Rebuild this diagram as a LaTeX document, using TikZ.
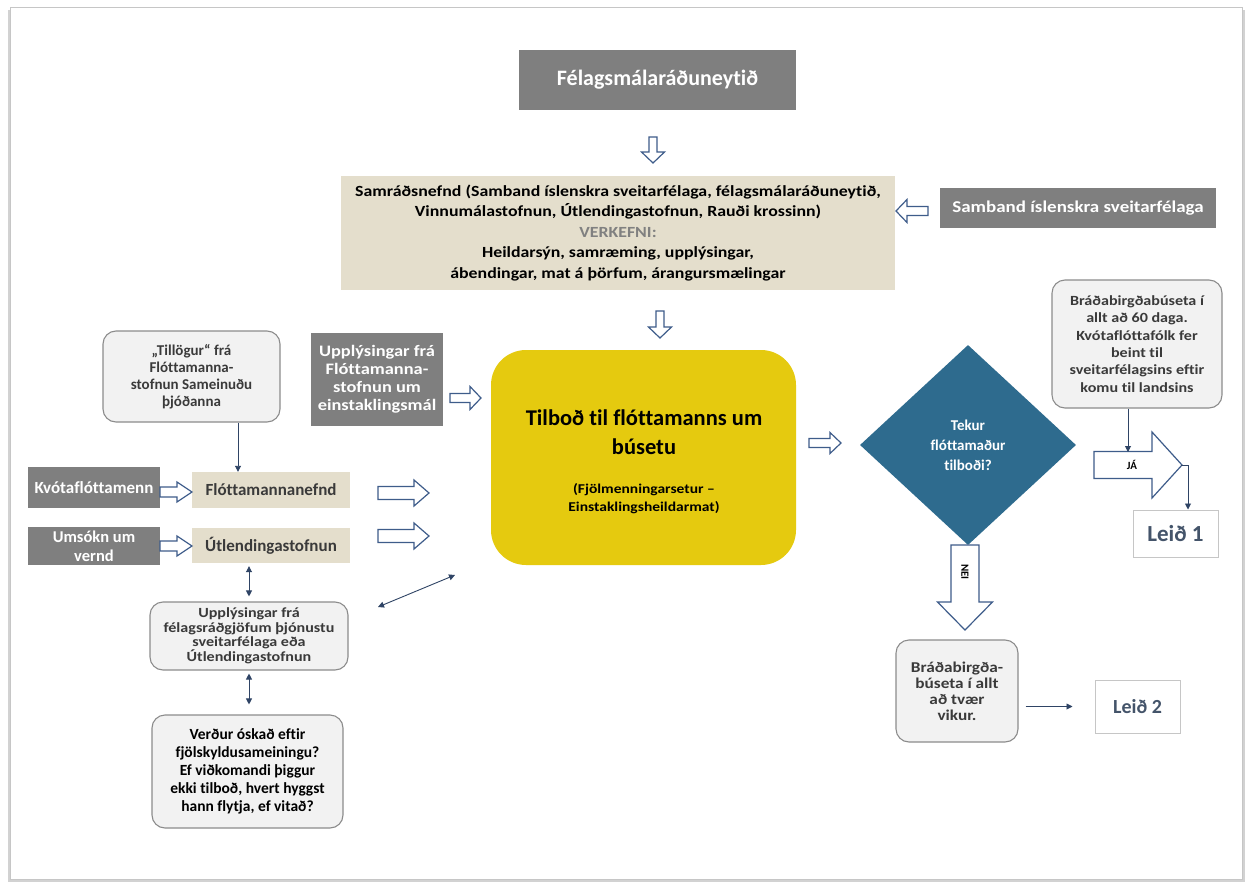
\documentclass[tikz,border=0pt]{standalone}
\usepackage{fontspec}
\setmainfont{Carlito}[Ligatures=CommonOff]
\newfontfamily\widefont[FakeStretch=1.15,Ligatures=CommonOff]{Carlito}
\usetikzlibrary{arrows.meta,shapes.geometric,calc}
\definecolor{gbox}{HTML}{7F7F7F}
\definecolor{beige}{HTML}{E4DECC}
\definecolor{lbox}{HTML}{F2F2F2}
\definecolor{lborder}{HTML}{8C8C8C}
\definecolor{yel}{HTML}{E5CA0F}
\definecolor{dia}{HTML}{2E6B8E}
\definecolor{abl}{HTML}{3E5C8A}
\definecolor{txt}{HTML}{3A3A3A}
\definecolor{leid}{HTML}{44546A}
\definecolor{lineblue}{HTML}{2F4465}
\definecolor{vgray}{HTML}{808080}
\newcommand\fs[2]{\fontsize{#1}{#2}\selectfont\bfseries}
\newcommand\fsw[2]{\widefont\fontsize{#1}{#2}\selectfont\bfseries}
% rot, x, y (tail centre), length, shaft width, head width, head length
\newcommand\hollowarrow[7]{%
  \draw[blockarrow, shift={(#2,#3)}, rotate=#1]
    (0,{-#5/2}) -- ({#4-#7},{-#5/2}) -- ({#4-#7},{-#6/2}) -- (#4,0)
    -- ({#4-#7},{#6/2}) -- ({#4-#7},{#5/2}) -- (0,{#5/2}) -- cycle;}
\begin{document}
\begin{tikzpicture}[x=1pt,y=-1pt,
  pxbox/.style n args={4}{minimum width={#3-#1}, minimum height={#4-#2},
     at={({(#1+#3)/2},{(#2+#4)/2})}},
  graybox/.style={fill=gbox, text=white, inner sep=1pt, align=center},
  beigebox/.style={fill=beige, text=txt, inner sep=1pt, align=center},
  softbox/.style={fill=lbox, draw=lborder, line width=1.1pt, rounded corners=13pt,
     text=txt, inner sep=1pt, align=center},
  leidbox/.style={fill=white, draw=gray!45, line width=1pt, text=leid, inner sep=1pt},
  blockarrow/.style={draw=abl, fill=white, line width=1.2pt, line join=miter},
  conn/.style={draw=lineblue, line width=0.9pt, -{Triangle[length=6pt,width=6pt]}},
  dconn/.style={draw=lineblue, line width=0.9pt,
     {Triangle[length=6pt,width=6pt]}-{Triangle[length=6pt,width=6pt]}}]
\useasboundingbox (0,0) rectangle (1248,883);
% page
\fill[gray!35] (8,10) rectangle (1245,882);
\filldraw[fill=white, draw=gray!45, line width=0.8pt] (10,7) rectangle (1242,879);

% top
\node[graybox, pxbox={519}{50}{796}{110}, font=\fs{22}{24}] (fel) {Félagsmálaráðuneytið};
\hollowarrow{-90}{653}{137}{26}{8}{23}{11}
\node[beigebox, pxbox={341}{176}{895}{290}, font=\fsw{15.5}{20.5}, text=black] (samrad)
  {Samráðsnefnd (Samband íslenskra sveitarfélaga, félagsmálaráðuneytið,\\
   Vinnumálastofnun, Útlendingastofnun, Rauði krossinn)\\
   {\color{vgray}VERKEFNI:}\\
   Heildarsýn, samræming, upplýsingar,\\
   ábendingar, mat á þörfum, árangursmælingar};
\node[graybox, pxbox={940}{188}{1216}{228}, font=\fsw{16.5}{19}] (samband) {Samband íslenskra sveitarfélaga};
\hollowarrow{180}{928}{211}{32}{9}{23}{11}
\hollowarrow{-90}{660}{311}{27}{8}{23}{11}

% left column
\node[softbox, pxbox={103}{331}{280}{422}, font=\fs{15}{17}] (tillogur)
  {„Tillögur“ frá\\Flóttamanna-\\stofnun Sameinuðu\\þjóðanna};
\node[graybox, pxbox={311}{333}{443}{426}, font=\fsw{16}{18}] (uppfl)
  {Upplýsingar frá\\Flóttamanna-\\stofnun um\\einstaklingsmál};
\hollowarrow{0}{450}{398}{31}{9}{23}{11}

\node[graybox, pxbox={28}{467}{160}{508}, font=\fs{17}{19}] (kvota) {Kvótaflóttamenn};
\node[beigebox, pxbox={192}{472}{350}{508}, font=\fs{17}{19}] (flott) {Flóttamannanefnd};
\node[graybox, pxbox={28}{527}{160}{565}, font=\fs{16.5}{19}] (umsokn) {Umsókn um\\vernd};
\node[beigebox, pxbox={192}{528}{350}{563}, font=\fs{17}{19}] (utl) {Útlendingastofnun};
\hollowarrow{0}{160}{492}{32}{10}{20}{15}
\hollowarrow{0}{160}{546}{32}{10}{20}{15}
\hollowarrow{0}{378}{493}{51}{13}{26}{15}
\hollowarrow{0}{378}{536}{51}{13}{26}{15}

\coordinate (tl) at (238,0);
\draw[conn] (tillogur.south -| tl) -- (flott.north -| tl);

\node[softbox, pxbox={150}{602}{348}{670}, font=\fsw{14}{14.5}] (uppf)
  {Upplýsingar frá\\félagsráðgjöfum þjónustu\\sveitarfélaga eða\\Útlendingastofnun};
\node[softbox, pxbox={152}{715}{343}{828}, font=\fs{15.5}{18}, text=black] (verdur)
  {Verður óskað eftir\\fjölskyldusameiningu?\\Ef viðkomandi þiggur\\ekki tilboð, hvert hyggst\\hann flytja, ef vitað?};
\draw[dconn, shorten <=3pt, shorten >=5pt] (utl.south -| uppf.north) -- (uppf.north);
\draw[dconn, shorten <=3pt, shorten >=10pt] (uppf.south) -- (verdur.north -| uppf.south);
\coordinate (d1) at (378,607);
\coordinate (d2) at (455,575);
\draw[dconn] (d1) -- (d2);

% centre
\node[fill=yel, rounded corners=35pt, pxbox={491}{350}{796}{565}] (yellow) {};
\node[font=\fs{22.5}{29}, align=center] (ytitle) at (644,432) {Tilboð til flóttamanns um\\búsetu};
\node[font=\fsw{13.5}{18}, align=center] (ysub) at (644,499) {(Fjölmenningarsetur –\\Einstaklingsheildarmat)};
\hollowarrow{0}{809}{443}{32}{9}{21}{11}

% decision
\node[diamond, fill=dia, minimum width=216pt, minimum height=200pt, inner sep=0pt,
      text=white, align=center, font=\fs{15}{20}] (q) at (968,445) {Tekur\\flóttamaður\\tilboði?};

\node[softbox, pxbox={1052}{280}{1222}{408}, font=\fsw{14}{17.4}] (brad1)
  {Bráðabirgðabúseta í\\allt að 60 daga.\\Kvótaflóttafólk fer\\beint til\\sveitarfélagsins eftir\\komu til landsins};
\hollowarrow{0}{1094}{465}{88}{27}{66}{30}
\node[font=\fs{11}{12}, text=black] (ja) at (1132,465) {JÁ};
\coordinate (jatop) at (1128,452);
\draw[conn] (brad1.south -| jatop) -- (jatop);
\node[leidbox, pxbox={1133}{510}{1218}{557}, font=\fs{23}{24}] (leid1) {Leið 1};
\coordinate (jatip) at (1181,465);
\coordinate (jaturn) at (1188,465);
\draw[conn] (jatip) -- (jaturn) -- (jaturn |- leid1.north);

\hollowarrow{-90}{965}{545}{85}{28}{55}{28}
\node[font=\fs{11}{12}, text=black, rotate=-90] (nei) at (965,572) {NEI};
\node[softbox, pxbox={896}{640}{1018}{742}, font=\fsw{15}{16}] (brad2)
  {Bráðabirgða-\\búseta í allt\\að tvær\\vikur.};
\node[leidbox, pxbox={1095}{680}{1180}{733}, font=\fs{20}{22}] (leid2) {Leið 2};
\draw[conn, shorten <=7pt, shorten >=22pt] (brad2.east |- leid2.west) -- (leid2.west);
\end{tikzpicture}
\end{document}
